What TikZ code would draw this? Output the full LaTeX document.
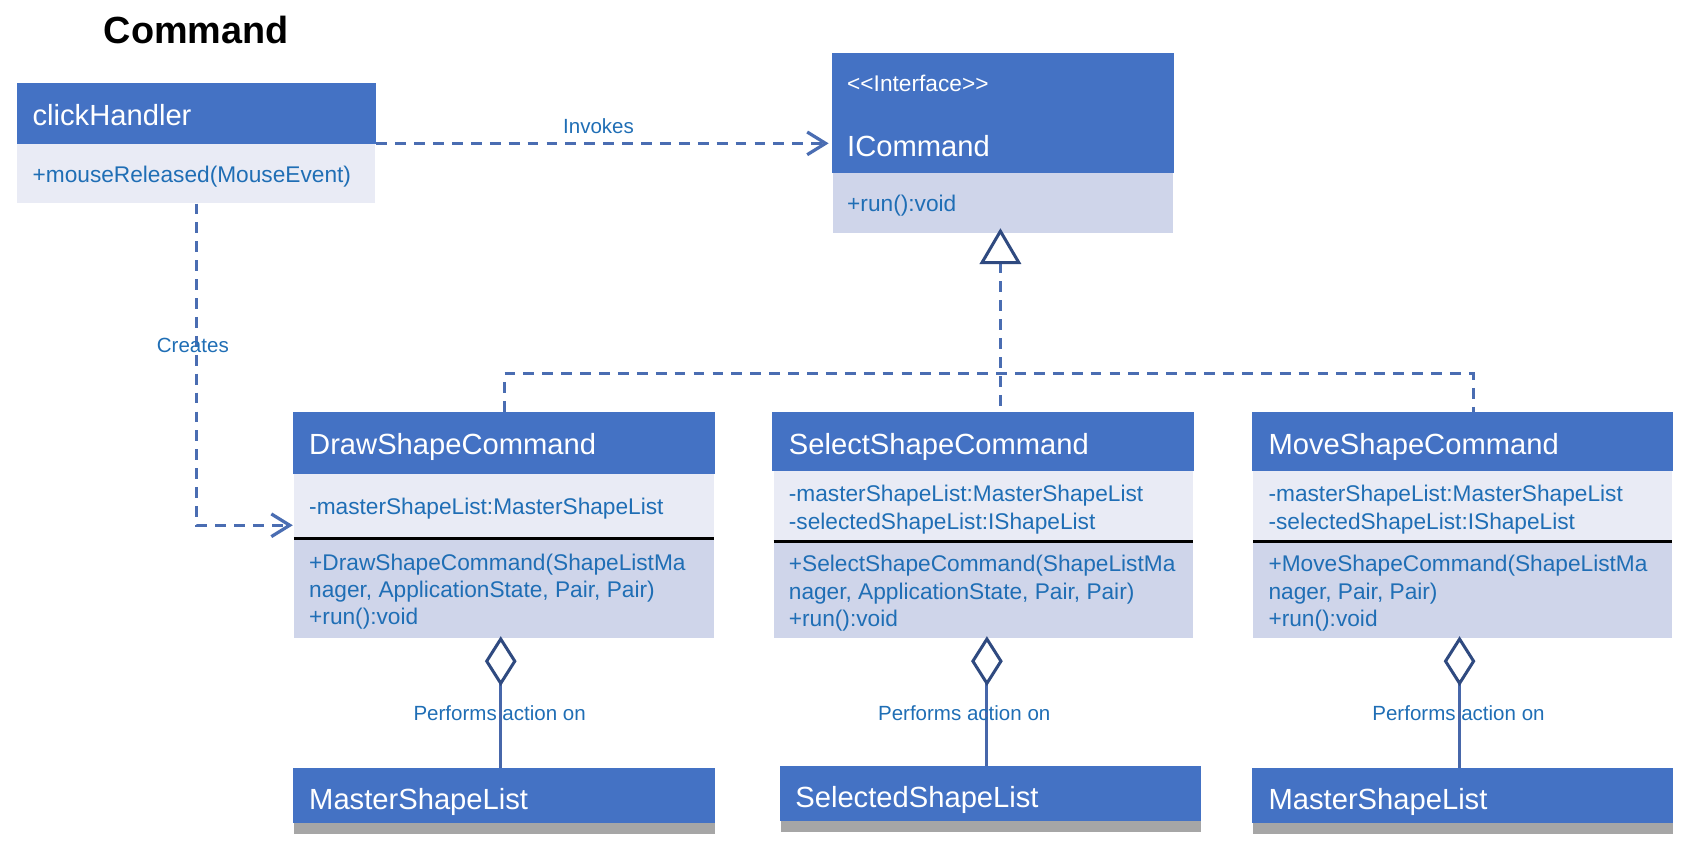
\documentclass[tikz,border=0pt]{standalone}
\usepackage{fontspec}
\setmainfont{Liberation Sans}
\usetikzlibrary{arrows.meta}
\definecolor{hblue}{HTML}{4472C4}
\definecolor{alight}{HTML}{E9EBF5}
\definecolor{mlav}{HTML}{CFD5EA}
\definecolor{tblue}{HTML}{1F6EB5}
\definecolor{cblue}{HTML}{4A6DB2}
\definecolor{dnavy}{HTML}{2F4A80}
\definecolor{aline}{HTML}{4767AA}
\definecolor{sgray}{HTML}{A6A6A6}
\begin{document}
\begin{tikzpicture}[x=1pt,y=-1pt,
  box/.style={anchor=north west, inner sep=0pt, draw=none},
  ttl/.style={anchor=base west, inner sep=0pt, text=white, font=\fontsize{27}{32}\selectfont},
  txt/.style={anchor=base west, inner sep=0pt, text=tblue, font=\fontsize{21}{25}\selectfont},
  lbl/.style={anchor=base, inner sep=0pt, text=tblue, font=\fontsize{19}{23}\selectfont},
  dsh/.style={draw=cblue, line width=3pt, dash pattern=on 10pt off 7.5pt},
  opentip/.style={-{Straight Barb[length=17pt,width=21pt]}},
  sep/.style={draw=black, line width=2.5pt},
  hollow/.style={draw=dnavy, line width=2.8pt, fill=white, line join=miter},
  aggr/.style={draw=aline, line width=2.8pt}]
\useasboundingbox (0,0) rectangle (1568,794);

% title
\node[anchor=base west, inner sep=0pt, font=\fontsize{35}{40}\selectfont\bfseries] (title) at (96,40) {Command};

% clickHandler
\node[box, minimum width=332pt, minimum height=111pt] (ch) at (16,77) {};
\fill[hblue] (16,77) rectangle (348,133);
\fill[alight] (16,133) rectangle (347,188);
\node[ttl] (chT) at (30,116) {clickHandler};
\node[txt] (chM) at (30,169) {+mouseReleased(MouseEvent)};

% ICommand
\node[box, minimum width=317pt, minimum height=167pt] (ic) at (770,49) {};
\fill[hblue] (770,49) rectangle (1087,160);
\fill[mlav] (771,160) rectangle (1086,216);
\node[txt, text=white] (icS) at (784,85) {<{}<Interface>{}>};
\node[ttl] (icT) at (784,145) {ICommand};
\node[txt] (icM) at (784,196) {+run():void};

% DrawShapeCommand
\node[box, minimum width=391pt, minimum height=210pt] (dsc) at (271,381) {};
\fill[hblue] (271,381) rectangle (662,439);
\fill[alight] (272,439) rectangle (661,497);
\fill[mlav] (272,500) rectangle (661,591);
\draw[sep] (272,498.5) -- (661,498.5);
\node[ttl] (dscT) at (286,421) {DrawShapeCommand};
\node[txt] (dscA) at (286,476) {-masterShapeList:MasterShapeList};
\node[txt] (dscM1) at (286,528) {+DrawShapeCommand(ShapeListMa};
\node[txt] (dscM2) at (286,553) {nager, ApplicationState, Pair, Pair)};
\node[txt] (dscM3) at (286,578) {+run():void};

% SelectShapeCommand
\node[box, minimum width=390pt, minimum height=210pt] (ssc) at (715,381) {};
\fill[hblue] (715,381) rectangle (1105,436);
\fill[alight] (716,436) rectangle (1104,500);
\fill[mlav] (716,503) rectangle (1104,591);
\draw[sep] (716,501.5) -- (1104,501.5);
\node[ttl] (sscT) at (730,421) {SelectShapeCommand};
\node[txt] (sscA1) at (730,464) {-masterShapeList:MasterShapeList};
\node[txt] (sscA2) at (730,490) {-selectedShapeList:IShapeList};
\node[txt] (sscM1) at (730,529) {+SelectShapeCommand(ShapeListMa};
\node[txt] (sscM2) at (730,555) {nager, ApplicationState, Pair, Pair)};
\node[txt] (sscM3) at (730,580) {+run():void};

% MoveShapeCommand
\node[box, minimum width=390pt, minimum height=210pt] (msc) at (1159,381) {};
\fill[hblue] (1159,381) rectangle (1549,436);
\fill[alight] (1160,436) rectangle (1548,500);
\fill[mlav] (1160,503) rectangle (1548,591);
\draw[sep] (1160,501.5) -- (1548,501.5);
\node[ttl] (mscT) at (1174,421) {MoveShapeCommand};
\node[txt] (mscA1) at (1174,464) {-masterShapeList:MasterShapeList};
\node[txt] (mscA2) at (1174,490) {-selectedShapeList:IShapeList};
\node[txt] (mscM1) at (1174,529) {+MoveShapeCommand(ShapeListMa};
\node[txt] (mscM2) at (1174,555) {nager, Pair, Pair)};
\node[txt] (mscM3) at (1174,580) {+run():void};

% bottom boxes
\node[box, minimum width=391pt, minimum height=61pt] (ml1) at (271,711) {};
\fill[sgray] (272,761) rectangle (662,772);
\fill[hblue] (271,711) rectangle (662,762);
\node[ttl] (ml1T) at (286,749) {MasterShapeList};

\node[box, minimum width=390pt, minimum height=61pt] (sl) at (722,709) {};
\fill[sgray] (723,759) rectangle (1112,770);
\fill[hblue] (722,709) rectangle (1112,760);
\node[ttl] (slT) at (736,747) {SelectedShapeList};

\node[box, minimum width=390pt, minimum height=61pt] (ml2) at (1159,711) {};
\fill[sgray] (1160,761) rectangle (1549,772);
\fill[hblue] (1159,711) rectangle (1549,762);
\node[ttl] (ml2T) at (1174,749) {MasterShapeList};

% Invokes
\draw[dsh, opentip, shorten >=3pt] (ch.east) -- (ic.west);
\node[lbl] (inv) at (554,124) {Invokes};

% Creates
\draw[dsh, opentip] (ch.south) |- (dsc.west);
\node[lbl] (cre) at (178.5,326) {Creates};

% realization
\coordinate (tb) at (926,243);
\coordinate (hl) at (467,346);
\coordinate (hr) at (1364,346);
\draw[dsh] (hl |- dsc.north) -- (hl) -- (hr) -- (hr |- msc.north);
\draw[dsh] (tb) -- (tb |- ssc.north);
\draw[hollow] (926,214) -- (943,243) -- (909,243) -- cycle;

% aggregations
\foreach \x/\b/\lx [count=\i] in {463.5/ml1/462.5, 913.5/sl/892.5, 1351/ml2/1350}{
  \coordinate (d\i) at (\x,632.5);
  \draw[aggr] (d\i) -- (d\i |- \b.north);
  \draw[hollow] (\x,591.5) -- (\x+13,612) -- (\x,632.5) -- (\x-13,612) -- cycle;
  \node[lbl] (pa\i) at (\lx,667) {Performs action on};
}
\end{tikzpicture}
\end{document}
